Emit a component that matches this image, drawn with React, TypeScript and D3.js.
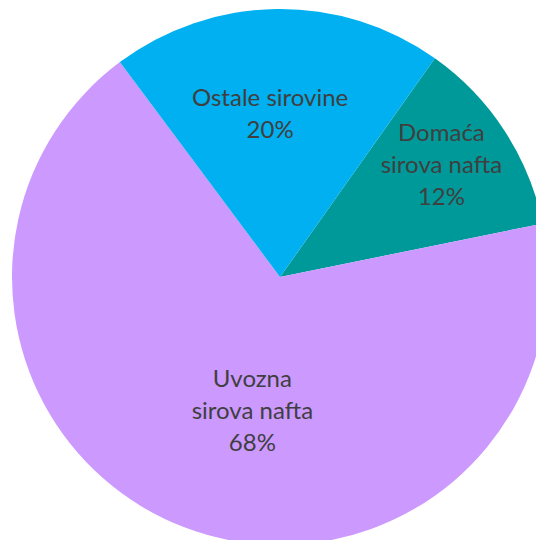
import React from "react";
import * as d3 from "d3";

const categories = ["Domaća sirova nafta", "Uvozna sirova nafta", "Ostale sirovine"];
const labelLines = [["Domaća", "sirova nafta"], ["Uvozna", "sirova nafta"], ["Ostale sirovine"]];
const values = [12, 68, 20];
const colors = ["#009999", "#CC99FF", "#00B0F0"];

const W = 536;
const H = 540;
const CX = 280;
const CY = 277;
const R = 268;
const START = (35.3 * Math.PI) / 180;
const labelRadius = [0.71, 0.54, 0.58];
const labelShift = [[2, 0], [24, 7], [-8, 0]];
const LINE_H = 32;

export default function App() {
  const pie = d3
    .pie<number>()
    .sort(null)
    .value((d) => d)
    .startAngle(START)
    .endAngle(START + 2 * Math.PI);
  const arcs = pie(values);
  const arc = d3.arc<d3.PieArcDatum<number>>().innerRadius(0).outerRadius(R);
  const total = d3.sum(values);

  return (
    <svg
      width={W}
      height={H}
      style={{ position: "absolute", left: 0, top: 0, overflow: "hidden", background: "#fff" }}
    >
      <g transform={`translate(${CX},${CY})`}>
        {arcs.map((a, i) => (
          <path key={i} d={arc(a) || ""} fill={colors[i]} stroke="none" />
        ))}
        {arcs.map((a, i) => {
          const la = d3
            .arc<d3.PieArcDatum<number>>()
            .innerRadius(R * labelRadius[i])
            .outerRadius(R * labelRadius[i]);
          const [x0, y0] = la.centroid(a);
          const x = x0 + labelShift[i][0];
          const y = y0 + labelShift[i][1];
          const lines = [...labelLines[i], `${Math.round((values[i] / total) * 100)}%`];
          const n = lines.length;
          return (
            <text
              key={"t" + i}
              x={x}
              y={y}
              textAnchor="middle"
              fontFamily="Lato, 'Open Sans', sans-serif"
              fontSize={24}
              fill="#3F3F3F"
            >
              {lines.map((l, j) => (
                <tspan key={j} x={x} y={y + (j - (n - 1) / 2) * LINE_H}>
                  {l}
                </tspan>
              ))}
            </text>
          );
        })}
      </g>
    </svg>
  );
}
